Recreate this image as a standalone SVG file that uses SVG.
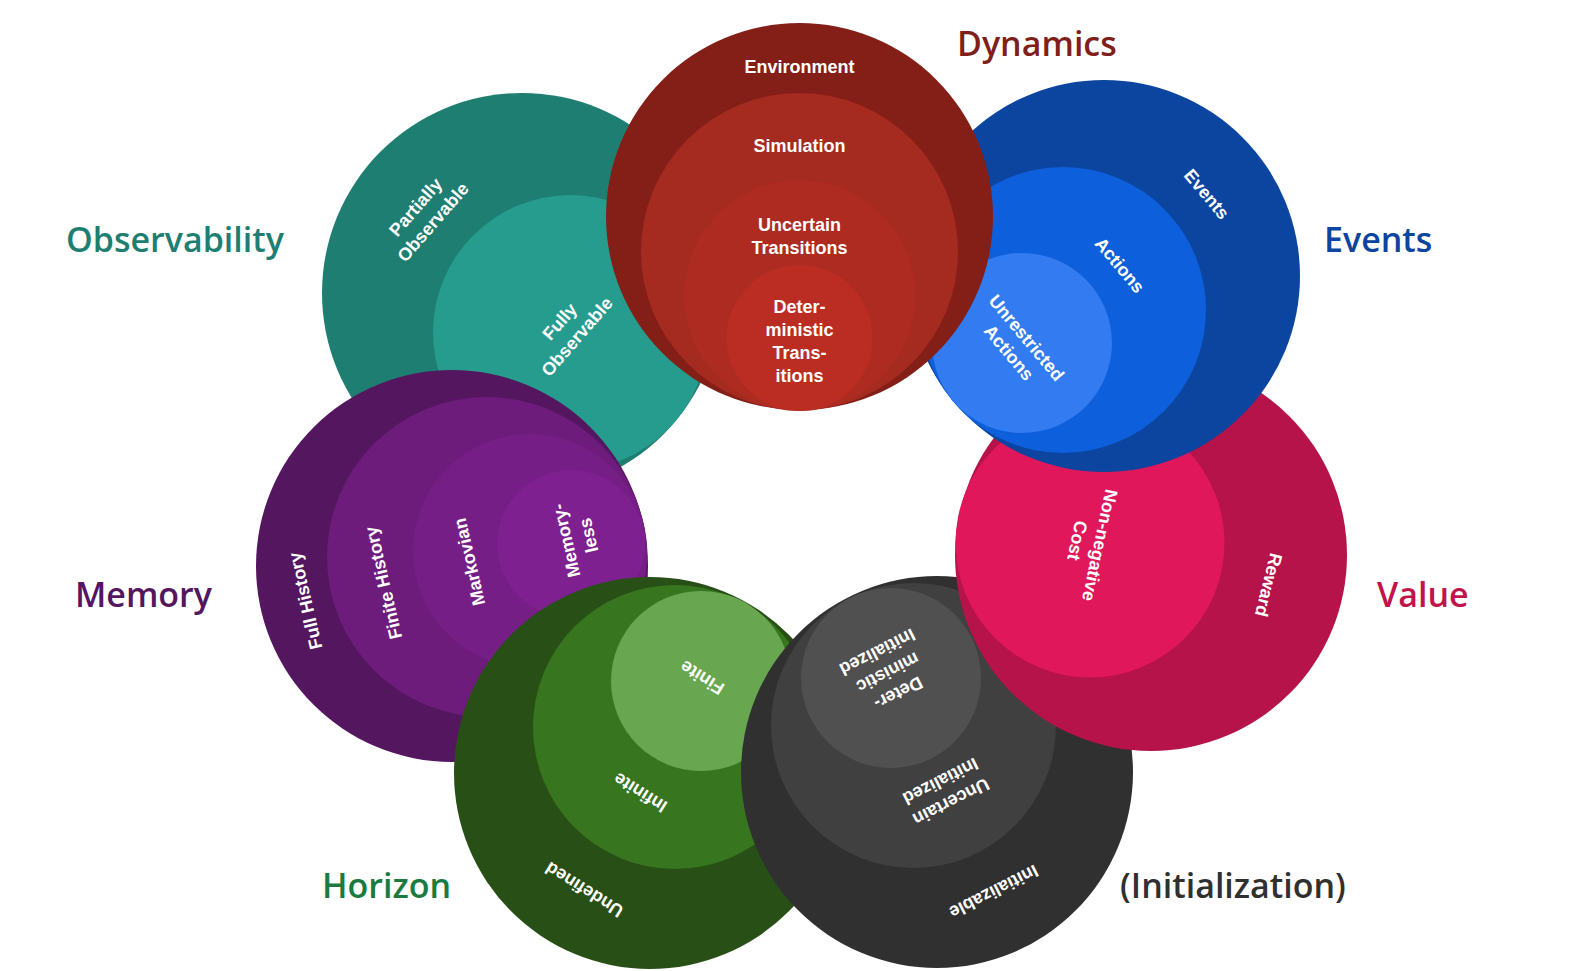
<svg xmlns="http://www.w3.org/2000/svg" width="1569" height="971" viewBox="0 0 1569 971">
<style>
.t{font-family:"Liberation Sans",Arial,sans-serif;font-weight:bold;font-size:18px;fill:#ffffff;text-anchor:middle}
.lbl{font-family:"Open Sans","Noto Sans",sans-serif;font-weight:600;font-size:34px}
</style>
<rect width="1569" height="971" fill="#ffffff"/>
<g id="observability">
<circle cx="522" cy="293" r="200" fill="#1e7e71"/>
<circle cx="570.5" cy="332.5" r="137.5" fill="#269c8e"/>
<g transform="translate(424,214.5) rotate(-49)"><text class="t" y="-5">Partially</text><text class="t" y="18">Observable</text></g>
<g transform="translate(568,329) rotate(-49)"><text class="t" y="-5">Fully</text><text class="t" y="18">Observable</text></g>
</g>
<g id="memory">
<circle cx="452" cy="566" r="196" fill="#54165e"/>
<circle cx="487" cy="557" r="160" fill="#6e1c7c"/>
<circle cx="530" cy="551" r="117" fill="#751e86"/>
<circle cx="571" cy="544" r="74" fill="#7e2090"/>
<g transform="translate(305,601) rotate(-103)"><text class="t" y="6.5">Full History</text></g>
<g transform="translate(383,583) rotate(-103)"><text class="t" y="6.5">Finite History</text></g>
<g transform="translate(469,562) rotate(-103)"><text class="t" y="6.5">Markovian</text></g>
<g transform="translate(577,538) rotate(-103)"><text class="t" y="-5">Memory-</text><text class="t" y="18">less</text></g>
</g>
<g id="horizon">
<circle cx="650" cy="773" r="196" fill="#285016"/>
<circle cx="675" cy="727" r="142" fill="#38751f"/>
<circle cx="701" cy="681" r="90" fill="#68a74f"/>
<g transform="translate(702,678) rotate(212)"><text class="t" y="6.5">Finite</text></g>
<g transform="translate(640,793) rotate(212)"><text class="t" y="6.5">Infinite</text></g>
<g transform="translate(584,890) rotate(212)"><text class="t" y="6.5">Undefined</text></g>
</g>
<g id="initialization">
<circle cx="937" cy="772" r="196" fill="#303030"/>
<circle cx="913.5" cy="725.5" r="142.5" fill="#404040"/>
<circle cx="891" cy="678" r="90" fill="#505050"/>
<g transform="translate(888,673) rotate(153)"><text class="t" y="-16.5">Deter-</text><text class="t" y="6.5">ministic</text><text class="t" y="29.5">Initialized</text></g>
<g transform="translate(946,792) rotate(153)"><text class="t" y="-5">Uncertain</text><text class="t" y="18">Initialized</text></g>
<g transform="translate(994,892) rotate(153)"><text class="t" y="6.5">Initializable</text></g>
</g>
<g id="value">
<circle cx="1151" cy="555" r="196" fill="#b51349"/>
<circle cx="1090" cy="543" r="134.5" fill="#e0175a"/>
<g transform="translate(1089,543) rotate(102)"><text class="t" y="-5">Non-negative</text><text class="t" y="18">Cost</text></g>
<g transform="translate(1269,585) rotate(104)"><text class="t" y="6.5">Reward</text></g>
</g>
<g id="events">
<circle cx="1104" cy="276" r="196" fill="#0b45a0"/>
<circle cx="1063" cy="310" r="143" fill="#0e5fdc"/>
<circle cx="1022" cy="343" r="90" fill="#327bf0"/>
<g transform="translate(1207,194) rotate(50)"><text class="t" y="6.5">Events</text></g>
<g transform="translate(1120,265) rotate(50)"><text class="t" y="6.5">Actions</text></g>
<g transform="translate(1018,345) rotate(50)"><text class="t" y="-5">Unrestricted</text><text class="t" y="18">Actions</text></g>
</g>
<g id="dynamics">
<circle cx="799.5" cy="216.5" r="193.5" fill="#841f18"/>
<circle cx="799.5" cy="251.5" r="158.5" fill="#a52a20"/>
<circle cx="799.5" cy="295.5" r="115.5" fill="#ae2b22"/>
<circle cx="799.5" cy="338" r="73" fill="#bb2d23"/>
<text class="t" x="799.5" y="73">Environment</text>
<text class="t" x="799.5" y="152">Simulation</text>
<text class="t" x="799.5" y="231">Uncertain</text>
<text class="t" x="799.5" y="254">Transitions</text>
<text class="t" x="799.5" y="313">Deter-</text>
<text class="t" x="799.5" y="336">ministic</text>
<text class="t" x="799.5" y="359">Trans-</text>
<text class="t" x="799.5" y="382">itions</text>
</g>
<g id="labels">
<text class="lbl" x="957" y="56" fill="#7f1f1a">Dynamics</text>
<text class="lbl" x="66" y="252" fill="#1e7e71">Observability</text>
<text class="lbl" x="1324" y="252" fill="#0b45a0">Events</text>
<text class="lbl" x="75" y="607" fill="#54165e">Memory</text>
<text class="lbl" x="1377" y="607" fill="#c0144b">Value</text>
<text class="lbl" x="322" y="898" fill="#1b7a3e">Horizon</text>
<text class="lbl" x="1120" y="898" fill="#303030">(Initialization)</text>
</g>
<g id="connectors"></g>
</svg>
